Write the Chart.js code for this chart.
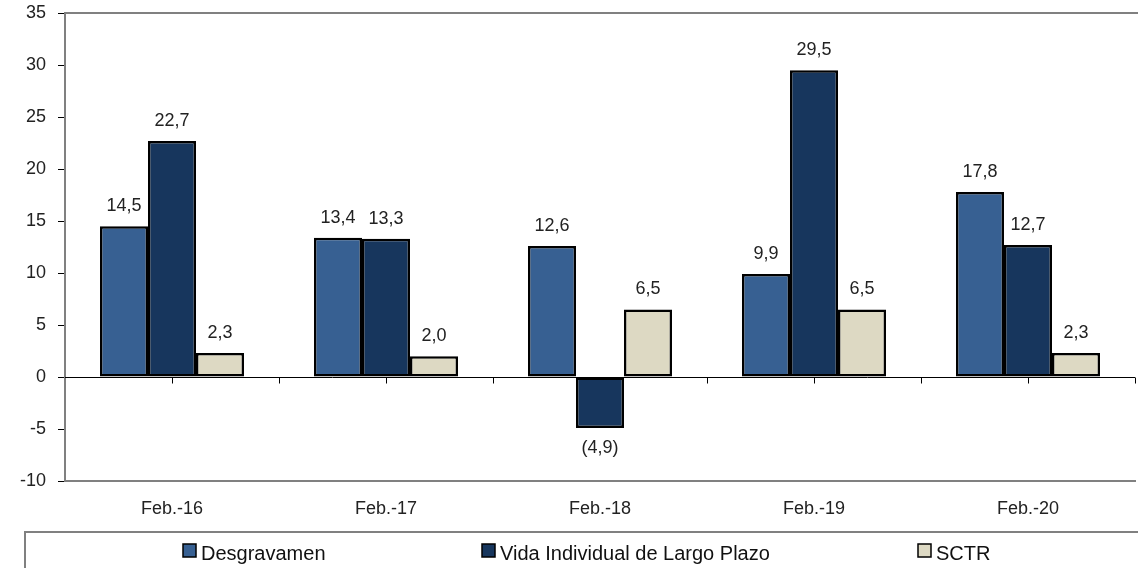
<!DOCTYPE html>
<html>
<head>
<meta charset="utf-8">
<script src="https://cdn.jsdelivr.net/npm/chart.js@4.4.1/dist/chart.umd.min.js"></script>
<style>
  html, body { margin: 0; padding: 0; background: #fff; }
  #wrap { position: relative; width: 1138px; height: 568px; }
</style>
</head>
<body>
<div id="wrap"><canvas id="chart" width="1138" height="568"></canvas></div>
<script>
// Chart data
var categories = ['Feb.-16', 'Feb.-17', 'Feb.-18', 'Feb.-19', 'Feb.-20'];
var desgravamen = [14.5, 13.4, 12.6, 9.9, 17.8];
var vidaIndividual = [22.7, 13.3, -4.9, 29.5, 12.7];
var sctr = [2.3, 2.0, 6.5, 6.5, 2.3];
var seriesNames = ['Desgravamen', 'Vida Individual de Largo Plazo', 'SCTR'];
var seriesColors = ['#376092', '#17365d', '#ddd9c3'];

var FONT = "'Liberation Sans', Arial, sans-serif";

// Format like 12,6 and negatives as (4,9)
function formatValue(v) {
  var s = Math.abs(v).toFixed(1).replace('.', ',');
  return v < 0 ? '(' + s + ')' : s;
}

// Value labels above / below each bar
var valueLabels = {
  id: 'valueLabels',
  afterDatasetsDraw: function(chart) {
    var ctx = chart.ctx;
    ctx.save();
    ctx.font = '18px ' + FONT;
    ctx.fillStyle = '#222';
    ctx.textAlign = 'center';
    ctx.textBaseline = 'alphabetic';
    chart.data.datasets.forEach(function(ds, i) {
      var meta = chart.getDatasetMeta(i);
      meta.data.forEach(function(bar, j) {
        var v = ds.data[j];
        if (v >= 0) {
          ctx.fillText(formatValue(v), bar.x, bar.y - 15);
        } else {
          ctx.fillText(formatValue(v), bar.x, bar.y + 25);
        }
      });
    });
    ctx.restore();
  }
};

// Zero line, small ticks on it, and top frame line
var frameLines = {
  id: 'frameLines',
  beforeDatasetsDraw: function(chart) {
    var ctx = chart.ctx;
    var area = chart.chartArea;
    var y0 = Math.round(chart.scales.y.getPixelForValue(0)) + 0.5;
    ctx.save();
    ctx.strokeStyle = '#808080';
    ctx.lineWidth = 2;
    ctx.beginPath();
    ctx.moveTo(area.left, area.top);
    ctx.lineTo(chart.width, area.top);
    ctx.stroke();

    ctx.strokeStyle = '#000';
    ctx.lineWidth = 1;
    ctx.beginPath();
    ctx.moveTo(area.left, y0);
    ctx.lineTo(area.right, y0);
    var step = (area.right - area.left) / (categories.length * 2);
    for (var k = 1; k <= categories.length * 2; k++) {
      var x = Math.round(area.left + k * step) + 0.5;
      ctx.moveTo(x, y0);
      ctx.lineTo(x, y0 + 6);
    }
    ctx.stroke();
    ctx.restore();
  }
};

// Boxed legend along the bottom
var boxLegend = {
  id: 'boxLegend',
  afterDraw: function(chart) {
    var ctx = chart.ctx;
    var itemX = [183, 482, 918];
    ctx.save();
    ctx.strokeStyle = '#808080';
    ctx.lineWidth = 2;
    ctx.strokeRect(25, 532, 1125, 50);
    ctx.font = '20px ' + FONT;
    ctx.textBaseline = 'alphabetic';
    ctx.textAlign = 'left';
    seriesNames.forEach(function(name, i) {
      ctx.fillStyle = seriesColors[i];
      ctx.fillRect(itemX[i], 544, 13, 13);
      ctx.strokeStyle = '#000';
      ctx.lineWidth = 1.5;
      ctx.strokeRect(itemX[i], 544, 13, 13);
      ctx.fillStyle = '#111';
      ctx.fillText(name, itemX[i] + 18, 560);
    });
    ctx.restore();
  }
};

function makeDataset(label, data, color) {
  return {
    label: label,
    data: data,
    backgroundColor: color,
    borderColor: '#000',
    borderWidth: 2.5,
    borderSkipped: false,
    categoryPercentage: 0.673,
    barPercentage: 1.0
  };
}

var chart = new Chart(document.getElementById('chart'), {
  type: 'bar',
  data: {
    labels: categories,
    datasets: [
      makeDataset(seriesNames[0], desgravamen, seriesColors[0]),
      makeDataset(seriesNames[1], vidaIndividual, seriesColors[1]),
      makeDataset(seriesNames[2], sctr, seriesColors[2])
    ]
  },
  options: {
    responsive: false,
    animation: false,
    layout: { padding: { top: 13, right: 3, left: 0, bottom: 0 } },
    plugins: {
      legend: { display: false },
      tooltip: { enabled: false }
    },
    scales: {
      x: {
        grid: { display: false, drawTicks: false },
        border: { color: '#808080', width: 2 },
        ticks: { color: '#222', font: { family: FONT, size: 18 }, padding: 17 },
        afterFit: function(scale) { scale.height = 87; }
      },
      y: {
        min: -10,
        max: 35,
        grid: { drawOnChartArea: false, drawTicks: true, tickLength: 7, color: '#000' },
        border: { color: '#808080', width: 2 },
        ticks: { stepSize: 5, color: '#222', font: { family: FONT, size: 18 }, padding: 12 },
        afterFit: function(scale) {
          scale.width = 65;
          scale.paddingTop = 0;
          scale.paddingBottom = 0;
        }
      }
    }
  },
  plugins: [frameLines, valueLabels, boxLegend]
});
</script>
</body>
</html>
